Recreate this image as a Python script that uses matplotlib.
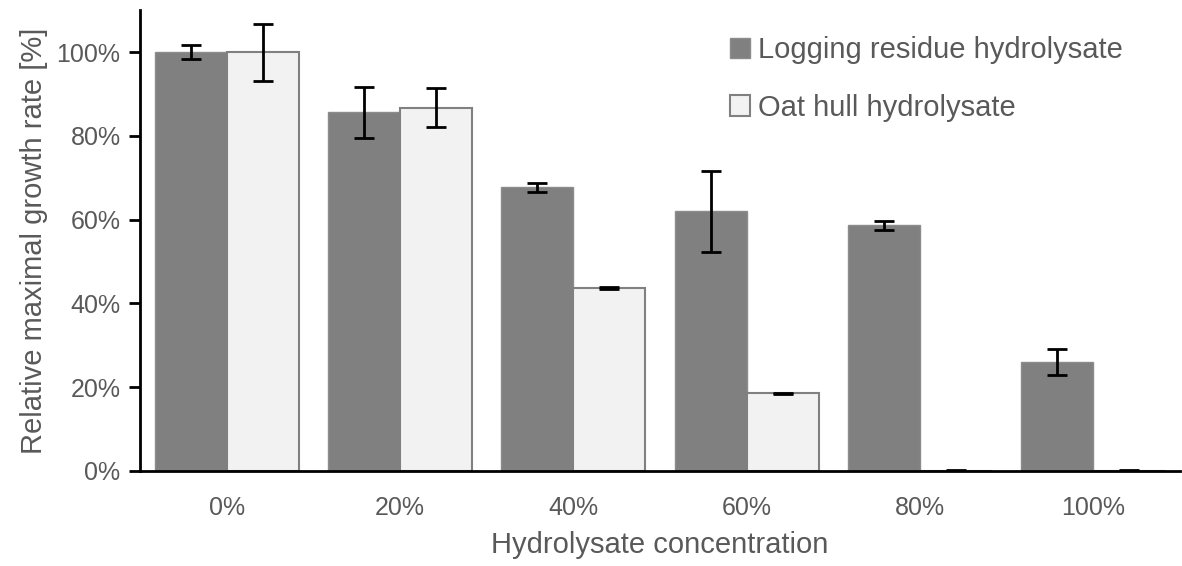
import matplotlib.pyplot as plt
import numpy as np
from matplotlib.ticker import FuncFormatter

plt.rcParams["font.family"] = ["Liberation Sans", "DejaVu Sans"]

categories = ["0%", "20%", "40%", "60%", "80%", "100%"]
logging_values = [100.0, 85.6, 67.7, 62.0, 58.6, 26.0]
logging_errors = [1.7, 6.1, 1.0, 9.7, 1.0, 3.2]
oat_values = [100.0, 86.7, 43.7, 18.5, 0.0, 0.0]
oat_errors = [6.8, 4.7, 0.2, 0.2, 0.2, 0.2]

TEXT = "#595959"

fig = plt.figure(figsize=(11.82, 5.66), dpi=100)
ax = fig.add_axes([0.1184, 0.168, 0.88, 0.814])

x = np.arange(len(categories))
width = 0.415
err_kw = dict(ecolor="black", elinewidth=2, capsize=7, capthick=2)

ax.bar(x - width / 2, logging_values, width, color="#808080", edgecolor="#8c8c8c",
       linewidth=1, yerr=logging_errors, error_kw=err_kw,
       label="Logging residue hydrolysate", zorder=2)
ax.bar(x + width / 2, oat_values, width, color="#f2f2f2", edgecolor="#808080",
       linewidth=1.5, yerr=oat_errors, error_kw=err_kw,
       label="Oat hull hydrolysate", zorder=2)

ax.set_xlim(-0.5, len(categories) - 0.5)
ax.set_ylim(0, 110)
ax.set_yticks(range(0, 101, 20))
ax.yaxis.set_major_formatter(FuncFormatter(lambda v, _: f"{v:.0f}%"))
ax.set_xticks(x)
ax.set_xticklabels(categories)

for side in ["top", "right"]:
    ax.spines[side].set_visible(False)
for side in ["left", "bottom"]:
    ax.spines[side].set_linewidth(2)
    ax.spines[side].set_zorder(3)

ax.tick_params(axis="y", direction="out", length=8, width=2, labelsize=18,
               labelcolor=TEXT, pad=6)
ax.tick_params(axis="x", length=0, labelsize=18, labelcolor=TEXT, pad=18)

ax.set_ylabel("Relative maximal growth rate [%]", fontsize=21, color=TEXT, labelpad=6)
ax.set_xlabel("Hydrolysate concentration", fontsize=21, color=TEXT, labelpad=8)

leg = ax.legend(loc="upper left", bbox_to_anchor=(0.542, 1.0), frameon=False,
                fontsize=21, handlelength=0.7, handleheight=0.7,
                handletextpad=0.25, labelspacing=1.0)
for t in leg.get_texts():
    t.set_color(TEXT)

fig.savefig("out.png", dpi=100)
